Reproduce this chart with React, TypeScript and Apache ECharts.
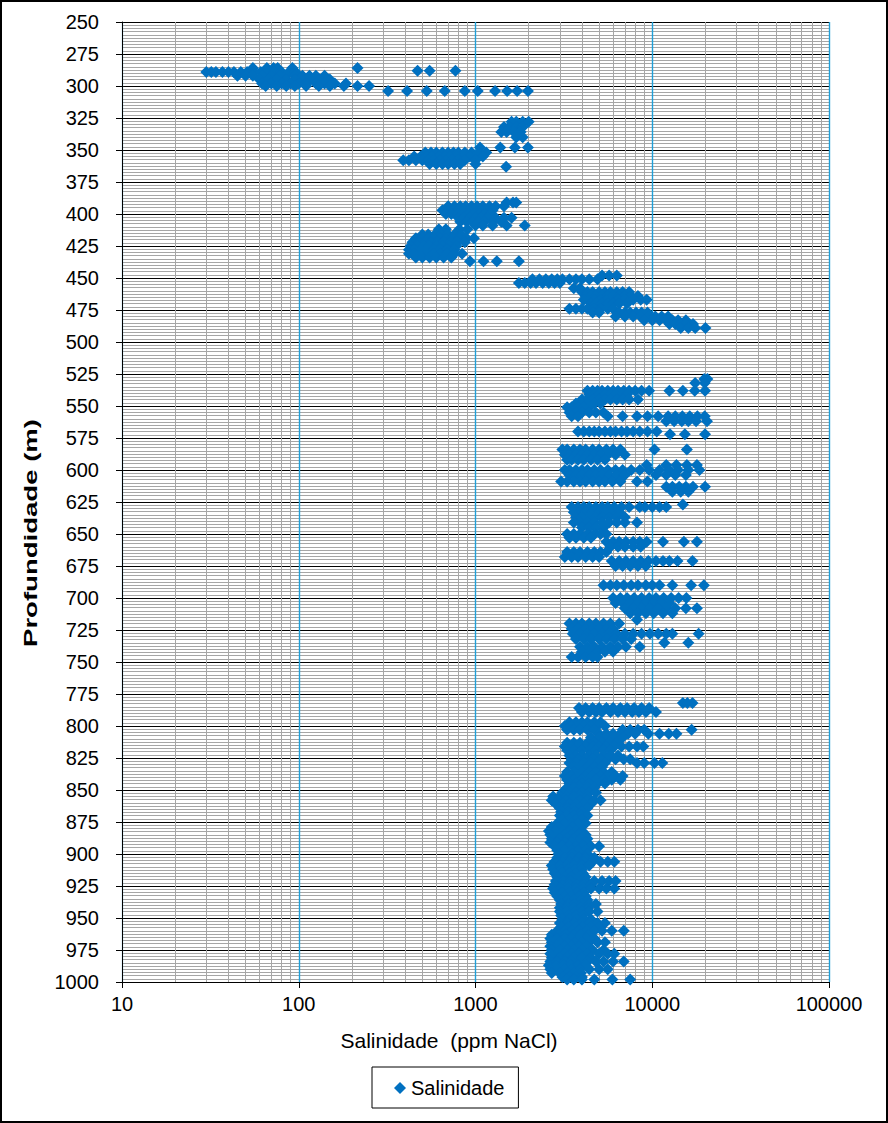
import React, { useEffect, useRef } from "react";
import * as echarts from "echarts";

// Each row: [depth (m), salinity values (ppm NaCl)...]
const zoneTop: number[][] = [
  [286, 55, 66, 72, 76, 92, 215],
  [288, 470, 550, 770],
  [289, 30, 32, 34, 37, 40, 43, 47, 51, 56, 61, 67, 73, 80, 88, 96],
  [292, 45, 50, 55, 62, 70, 78, 85, 95, 105, 115, 125, 140],
  [295, 60, 68, 75, 85, 95, 105, 115, 130, 150],
  [298, 62, 70, 80, 90, 100, 110, 125, 140, 160, 185],
  [300, 65, 75, 85, 95, 110, 130, 150, 180, 215, 250],
  [304, 320, 410, 530, 670, 870, 1030, 1290, 1510, 1720, 1980],
];

const zone330: number[][] = [
  [328, 1600, 1700, 1850, 2000],
  [332, 1450, 1550, 1700, 1850],
  [336, 1400, 1500, 1650, 1800],
  [340, 1700, 1850],
  [348, 1060, 1380, 1670, 1980],
  [352, 520, 560, 600, 650, 700, 750, 800, 870, 950, 1050, 1150],
  [355, 450, 490, 530, 570, 620, 670, 720, 780, 850, 930, 1000, 1100],
  [358, 390, 420, 460, 500, 540, 580, 630, 680, 740, 800, 870, 1000],
  [361, 550, 600, 650, 700, 760, 820, 1000],
  [363, 1490],
];

const zone400: number[][] = [
  [391, 1500, 1630, 1700],
  [394, 700, 760, 820, 880, 950, 1020, 1100, 1200, 1300, 1450],
  [397, 650, 700, 750, 800, 860, 920, 990, 1070, 1150, 1250],
  [400, 680, 730, 790, 850, 910, 980, 1050, 1130, 1220],
  [403, 800, 860, 930, 1000, 1080, 1170, 1300, 1450, 1600],
  [406, 820, 890, 960, 1040, 1120, 1250, 1400],
  [409, 1000, 1100, 1250, 1500, 1900],
  [412, 620, 680, 810, 900],
  [416, 500, 540, 590, 640, 700, 760, 830],
  [419, 460, 500, 540, 580, 630, 680, 740, 810, 890, 980],
  [422, 440, 480, 520, 560, 610, 660, 720, 790, 870],
  [425, 430, 470, 510, 550, 600, 650, 710, 780],
  [428, 420, 450, 490, 530, 580, 630, 690, 760],
  [431, 420, 450, 490, 530, 580, 630, 690, 760, 840],
  [434, 460, 500, 550, 600, 660, 730],
  [437, 930, 1110, 1320, 1760],
];

const zone470: number[][] = [
  [448, 5200, 5700, 6300],
  [451, 2100, 2300, 2500, 2700, 2900, 3100, 3400, 3700, 4000, 4400, 4900],
  [454, 1760, 1900, 2050, 2200, 2400, 2600, 2800, 3000],
  [458, 3600, 3900],
  [461, 4000, 4300, 4600, 5000, 5400, 5800, 6300, 6800, 7400],
  [464, 4200, 4500, 4800, 5200, 5600, 6000, 6500, 7000, 7600, 8300],
  [467, 4100, 4400, 4700, 5100, 5500, 5900, 6400, 7000, 7800, 8600, 9300],
  [470, 4500, 4800, 5200, 5600, 6000, 6500, 7200],
  [474, 3400, 3700, 4000, 4300, 4700, 5100, 5600, 6000],
  [477, 4600, 5000, 6500, 7000, 7500, 8100, 8700, 9400],
  [480, 6200, 7000, 7800, 8600, 9500, 10400, 11300, 12300],
  [483, 9000, 10000, 11000, 12000, 13000, 14000, 15500],
  [486, 12500, 13500, 14500, 15500, 17000],
  [489, 14500, 16000, 17500, 20000],
];

const zone570: number[][] = [
  [529, 19700, 20500],
  [532, 17500, 19800],
  [538, 4300, 4600, 4900, 5200, 5600, 6000, 6400, 6900, 7400, 8000, 8700, 9600, 12500, 14900, 17400, 19900],
  [541, 4400, 4700, 5000, 5400, 5800, 6200, 6700, 7200],
  [545, 4000, 4300, 4600, 5000, 5400, 5800, 6300, 6800, 7400, 8300],
  [548, 3700, 4000, 4300, 4700, 5100],
  [551, 3300, 3500, 3800, 4100, 4400],
  [555, 3400, 3700, 4000, 4400, 4800, 5300],
  [558, 3500, 3800, 5600, 6800, 8200, 9400, 10800, 12300, 13500, 14800, 16300, 18000, 19800],
  [562, 12000, 13300, 14700, 16000, 17700, 20400],
  [570, 3800, 4100, 4400, 4700, 5000, 5400, 5800, 6200, 6700, 7200, 7800, 8500, 9400, 10600],
  [572, 12600, 15300, 19900],
  [584, 3100, 3300, 3600, 3900, 4200, 4600, 5000, 5500, 6000, 6600, 10300, 15700],
  [588, 3200, 3400, 3700, 4000, 4300, 4700, 5100, 5600, 6200, 7000],
  [592, 3300, 3500, 3800, 4100, 4500, 4900, 5400],
  [596, 9300, 12000, 13700, 15700, 17900],
  [600, 3200, 3400, 3700, 4000, 4300, 4700, 5100, 5600, 6200, 6800, 7600, 8500, 9600, 11000, 12500, 14000, 16000, 18500],
  [604, 3400, 3700, 4000, 4400, 4800, 5200, 5700, 6300, 7000, 10500, 12000, 13500, 15500],
  [609, 3050, 3300, 3600, 3900, 4200, 4600, 5000, 5400, 5950, 6600, 8200, 9400],
  [613, 12000, 13000, 14200, 15500, 17000, 19900],
  [617, 13000, 14500, 16000],
];

const zone690: number[][] = [
  [627, 14900],
  [629, 3500, 3800, 4100, 4400, 4800, 5200, 5600, 6100, 6700, 7400, 8500, 9100, 10000, 11000, 12000],
  [633, 3600, 3900, 4200, 4600, 5000, 5400, 5900, 6500],
  [637, 3700, 4000, 4400, 4800, 5200, 5700, 6300, 7000],
  [641, 3600, 3900, 4300, 4700, 5200, 5700, 6300, 7000, 8200],
  [645, 4000, 4400, 4800, 5300],
  [650, 3300, 3600, 3900, 4300, 4700, 5100, 5500],
  [653, 3400, 3700, 4100, 4500],
  [656, 5500, 6000, 6500, 7100, 7800, 8500, 9300, 11500, 15100, 17900],
  [660, 5800, 6400, 7000, 7800, 8600],
  [664, 3300, 3600, 3900, 4300, 4700, 5100, 5500],
  [668, 3200, 3500, 3800, 4200, 4600, 5000],
  [671, 5900, 6500, 7100, 7800, 8600, 9500, 10500, 11500, 12500, 13900, 16900],
  [675, 6200, 6800, 7500, 8300, 9200],
  [690, 5300, 5800, 6300, 6900, 7600, 8300, 9200, 10000, 11000, 13000, 16600, 19600],
  [700, 6000, 6600, 7200, 7900, 8700, 9600, 10500, 11600, 12800, 14100, 15600],
  [704, 6200, 6800, 7500, 8300, 9200, 10200, 11300, 12500],
  [708, 7000, 7800, 8700, 9700, 10800, 12000, 13500, 15500, 17900],
  [712, 7500, 8300, 9200, 10200, 11500, 13000],
  [717, 8200],
  [720, 3400, 3700, 4000, 4400, 4800, 5300, 5800, 6500],
  [724, 3500, 3800, 4200, 4600, 5000, 5500, 6000],
  [728, 3550, 3900, 4300, 4700, 5200, 5700, 6300, 7000, 7800, 8700, 9700, 10800, 12000, 13000, 18300],
  [732, 3700, 4100, 4500, 5000, 5500, 6100, 6800, 7600],
  [735, 11700, 16000],
  [738, 3900, 4300, 4700, 5200, 5800, 6400, 7100, 8500],
  [742, 4000, 4400, 4900, 5400, 6000],
  [746, 3500, 3800, 4200, 4600, 4900],
];

const zone810: number[][] = [
  [782, 14900, 15800, 16900],
  [786, 3850, 4200, 4600, 5000, 5500, 6000, 6600, 7200, 7900, 8700, 9600],
  [789, 4000, 4400, 4800, 5200, 5800, 6400, 7000, 7700, 8400, 9200, 10500],
  [797, 3400, 3700, 4000, 4300, 4700, 5100],
  [800, 3200, 3500, 3800, 4100, 4500, 4900, 5400],
  [803, 3300, 3600, 3900, 4300, 4700, 6800, 7500, 8300, 9000, 16700],
  [806, 5000, 5500, 6000, 6600, 7300, 8000, 9500, 11000, 12400, 13700],
  [809, 4500, 5000, 5500, 6100, 6800],
  [813, 3300, 3600, 3900, 4300, 4700, 5200, 5700, 6300],
  [816, 3200, 3500, 3800, 4200, 4600, 5000, 5500, 6100, 6700, 7400, 8200, 8900],
  [819, 3300, 3600, 4000, 4400, 4800, 5300, 5800],
  [823, 3400, 3700, 4000, 4400, 4800, 5300, 5800, 6400],
  [826, 3500, 3800, 4200, 4600, 5100, 5600, 6200, 6900, 7500],
  [829, 3400, 3700, 4100, 4500, 4900, 5400, 8200, 9000, 10300, 11400],
  [832, 3600, 3900, 4300, 4700, 5200],
  [836, 3300, 3600, 4000, 4400, 4800, 5300, 5900],
  [839, 3200, 3500, 3800, 4200, 4600, 5100, 5600, 6200, 6800],
  [842, 3300, 3600, 4000, 4400, 4800, 5300, 5900, 6600],
  [845, 3400, 3700, 4000, 4400, 4900, 5400],
  [848, 3300, 3600, 3900, 4300, 4700],
];

const zone925: number[][] = [
  [852, 3100, 3400, 3700, 4000, 4400, 4800],
  [855, 2750, 3000, 3300, 3600, 3900, 4300],
  [858, 2700, 2950, 3250, 3550, 3900, 4300, 4700, 5100],
  [861, 2850, 3100, 3400, 3700, 4100, 4500],
  [864, 3000, 3300, 3600, 3900, 4300],
  [867, 3050, 3350, 3650, 4000],
  [870, 3000, 3300, 3600, 3950, 4300],
  [873, 3100, 3400, 3700, 4000],
  [876, 2900, 3200, 3500, 3800, 4200],
  [879, 2700, 2950, 3250, 3550, 3900],
  [882, 2600, 2850, 3100, 3400, 3700, 4000],
  [885, 2650, 2900, 3200, 3500, 3850, 4200],
  [888, 2700, 3000, 3300, 3600, 3950, 4300],
  [891, 2650, 2900, 3200, 3500, 3800, 4200],
  [894, 2800, 3100, 3400, 3700, 4100, 4500, 5000],
  [897, 2900, 3200, 3500, 3800, 4200],
  [900, 2950, 3250, 3550, 3900, 4300],
  [903, 2900, 3200, 3500, 3850, 4200, 4700],
  [906, 2800, 3100, 3400, 3700, 4100, 4600, 5100, 5600, 6100],
  [909, 2700, 3000, 3300, 3600, 4000, 4400],
  [912, 2750, 3050, 3350, 3650, 4000],
  [915, 2800, 3100, 3400, 3700, 4050],
  [918, 2900, 3200, 3500, 3850, 4200],
  [921, 2850, 3150, 3450, 3800, 4200, 4700, 5200, 5700, 6200],
  [924, 2800, 3100, 3400, 3750, 4100, 4500],
];

const zone975: number[][] = [
  [927, 2750, 3050, 3350, 3700, 4050, 4500, 5000, 5500, 6100],
  [930, 2800, 3100, 3400, 3750, 4100],
  [933, 2900, 3200, 3500, 3850, 4200],
  [936, 3000, 3300, 3600, 3950, 4300],
  [939, 3050, 3350, 3650, 4000, 4400, 4800],
  [942, 3000, 3300, 3600, 3950, 4350],
  [945, 3000, 3300, 3650, 4000, 4400, 4900],
  [948, 3050, 3350, 3700, 4050],
  [951, 3100, 3400, 3750, 4100, 4500],
  [954, 3000, 3300, 3650, 4000, 4400, 4900, 5400],
  [957, 3050, 3350, 3700, 4050, 4500, 5000],
  [960, 2900, 3200, 3500, 3850, 4250, 4700, 5200, 5900, 6900],
  [963, 2700, 2950, 3250, 3600, 3950, 4350],
  [966, 2650, 2900, 3200, 3500, 3850, 4250, 4700],
  [969, 2700, 3000, 3300, 3650, 4000, 4400, 4900, 5400],
  [972, 2650, 2900, 3200, 3500, 3850, 4250],
  [975, 2700, 3000, 3300, 3600, 4000, 4600, 5300],
  [978, 2650, 2900, 3200, 3500, 3850, 4300, 5000, 5600, 6100],
  [981, 2700, 3000, 3300, 3600, 4000, 4500],
  [984, 2650, 2900, 3200, 3500, 3850, 4300, 4800, 5300, 6000, 6900],
  [987, 2600, 2850, 3150, 3450, 3800, 4200],
  [990, 2650, 2900, 3200, 3500, 3900, 4400, 5000, 5600],
  [993, 2700, 3000, 3300, 3600, 3950],
  [996, 3100, 3400, 3700, 4000],
  [998, 3300, 3600, 4000, 4700, 5950, 7500],
];

const zones = [zoneTop, zone330, zone400, zone470, zone570, zone690, zone810, zone925, zone975];

// vertical gridlines of the log axis
const minorGridX = [
  20, 30, 40, 50, 60, 70, 80, 90,
  200, 300, 400, 500, 600, 700, 800, 900,
  2000, 3000, 4000, 5000, 6000, 7000, 8000, 9000,
  20000, 30000, 40000, 50000, 60000, 70000, 80000, 90000,
];
const majorGridX = [100, 1000, 10000, 100000];

const seriesName = "Salinidade";
const xAxisName = "Salinidade  (ppm NaCl)";
const yAxisName = "Profundidade (m)";
const depthMin = 250;
const depthMax = 1000;
const depthStep = 25;
const salMin = 10;
const salMax = 100000;

const FONT = "'Liberation Sans', Arial, sans-serif";
const BLUE_GRID = "#1f9fd8";
const GRAY_GRID = "#a6a6a6";

export default function App() {
  const ref = useRef<HTMLDivElement>(null);
  useEffect(() => {
    if (!ref.current) return;
    const chart = echarts.init(ref.current, null, { renderer: "svg" });
    const points: number[][] = [];
    zones.forEach((zone) =>
      zone.forEach((row) => {
        const depth = row[0];
        for (let i = 1; i < row.length; i++) points.push([row[i], depth]);
      })
    );
    const gridLines = [
      ...minorGridX.map((v) => ({ xAxis: v, lineStyle: { color: GRAY_GRID, width: 1, type: "solid" } })),
      ...majorGridX.map((v) => ({ xAxis: v, lineStyle: { color: BLUE_GRID, width: 1.2, type: "solid" } })),
    ];
    chart.setOption({
      animation: false,
      backgroundColor: "#fff",
      textStyle: { fontFamily: FONT },
      grid: { left: 122, right: 59, top: 22, bottom: 141 },
      graphic: [
        {
          type: "rect",
          shape: { x: 1, y: 1, width: 886, height: 1121 },
          style: { fill: "none", stroke: "#000", lineWidth: 2 },
          silent: true,
        },
        {
          type: "text",
          x: 31,
          y: 533,
          rotation: Math.PI / 2,
          scaleX: 1.45,
          style: {
            text: yAxisName,
            fontSize: 19,
            fontWeight: "bold",
            fontFamily: FONT,
            fill: "#000",
            align: "center",
            verticalAlign: "middle",
          },
          silent: true,
        },
        {
          type: "text",
          x: 449,
          y: 1040,
          style: {
            text: xAxisName,
            fontSize: 21,
            fontFamily: FONT,
            fill: "#000",
            align: "center",
            verticalAlign: "middle",
          },
          silent: true,
        },
      ],
      legend: {
        show: true,
        data: [seriesName],
        left: 372,
        top: 1067,
        orient: "horizontal",
        icon: "diamond",
        itemWidth: 12,
        itemHeight: 12,
        itemGap: 5,
        padding: [11, 14, 10, 22],
        borderColor: "#000",
        borderWidth: 1,
        textStyle: { fontSize: 20, color: "#000", fontFamily: FONT },
      },
      xAxis: {
        type: "log",
        logBase: 10,
        min: salMin,
        max: salMax,
        axisLine: { show: true, lineStyle: { color: "#000", width: 1 } },
        axisTick: { show: true, length: 6, lineStyle: { color: "#000" } },
        axisLabel: {
          fontSize: 20,
          color: "#000",
          margin: 12,
          fontFamily: FONT,
          formatter: (v: number) => String(Math.round(v)),
        },
        splitLine: { show: true, lineStyle: { color: BLUE_GRID, width: 1.2 } },
        minorTick: { show: false },
        minorSplitLine: { show: false },
      },
      yAxis: {
        type: "value",
        inverse: true,
        min: depthMin,
        max: depthMax,
        interval: depthStep,
        axisLine: { show: true, lineStyle: { color: "#000", width: 1 } },
        axisTick: { show: true, length: 6, lineStyle: { color: "#000" } },
        axisLabel: {
          fontSize: 20,
          color: "#000",
          margin: 23,
          fontFamily: FONT,
          formatter: (v: number) => String(v),
        },
        splitLine: { show: true, lineStyle: { color: "#000", width: 1.2 } },
        minorTick: { show: false, splitNumber: 10 },
        minorSplitLine: { show: true, lineStyle: { color: GRAY_GRID, width: 1 } },
      },
      series: [
        {
          name: seriesName,
          type: "scatter",
          symbol: "diamond",
          symbolSize: 12,
          itemStyle: { color: "#0070c0", opacity: 1 },
          data: points,
          z: 5,
          markLine: {
            silent: true,
            z: 1,
            symbol: ["none", "none"],
            label: { show: false },
            emphasis: { disabled: true },
            data: gridLines,
          },
        },
      ],
    });
    return () => chart.dispose();
  }, []);
  return (
    <div
      ref={ref}
      style={{ position: "absolute", left: 0, top: 0, width: 888, height: 1123 }}
    />
  );
}
